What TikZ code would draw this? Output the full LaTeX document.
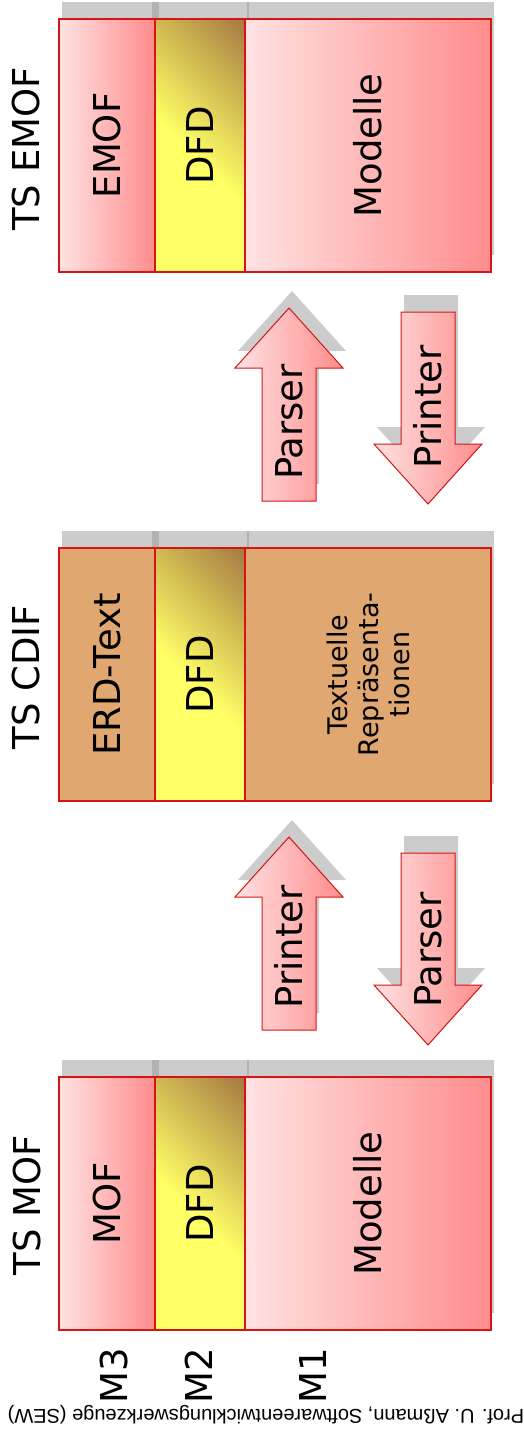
\documentclass[tikz,border=0pt]{standalone}
\usepackage{fontspec}
\setmainfont{DejaVu Sans}
\newfontfamily\footfont{Liberation Sans}
\definecolor{pinkL}{RGB}{255,226,226}
\definecolor{pinkR}{RGB}{255,140,140}
\definecolor{tanc}{RGB}{224,167,112}
\definecolor{dfdyel}{RGB}{255,255,102}
\definecolor{dfdbrn}{RGB}{165,120,65}
\definecolor{bred}{RGB}{215,20,20}
\definecolor{shgray}{RGB}{204,204,204}
\definecolor{shdark}{RGB}{178,178,178}
\tikzset{
  colbox/.style={draw=bred, line width=1.2pt, inner sep=0pt, outer sep=0pt, anchor=north west, minimum height=253pt},
  pinkfill/.style={left color=pinkL, right color=pinkR},
  tanfill/.style={fill=tanc},
  bigtext/.style={font=\fontsize{37}{44}\selectfont, rotate=90, inner sep=0pt},
  midtext/.style={font=\fontsize{27}{31}\selectfont, rotate=90, inner sep=0pt, align=center},
  arrowbody/.style={draw=bred, line width=1pt, left color=pinkL, right color=pinkR, line join=miter},
}
\begin{document}
\begin{tikzpicture}[x=1pt, y=-1pt]
\useasboundingbox (0,0) rectangle (524,1435);
% ---------- shadows of blocks and DFD gradients ----------
\foreach \y in {19,548,1077}{
  \fill[shgray] (62,\y-17) rectangle (494,\y+236);
  \fill[shdark] (152,\y-17) rectangle (159,\y+236);
  \fill[shdark] (246.5,\y-17) rectangle (249,\y+236);
  \begin{scope}
    \clip (155,\y) rectangle (245,\y+253);
    \fill[dfdyel] (155,\y) rectangle (245,\y+253);
    \foreach \i in {0,...,39}{
      \pgfmathsetmacro\ta{\i*4.7}
      \pgfmathsetmacro\tb{(\i+1)*4.7+0.7}
      \pgfmathtruncatemacro\p{(\i+0.5)*2.5}
      \fill[dfdbrn!\p!dfdyel] (150,\y+93-\ta) -- (250,\y+193-\ta) -- (250,\y+193-\tb) -- (150,\y+93-\tb) -- cycle;
    }
  \end{scope}
}
% ---------- block TS EMOF ----------
\node[colbox, pinkfill, minimum width=96pt] (emof) at (59,19) {};
\node[colbox, minimum width=90pt] (dfdA) at (155,19) {};
\node[colbox, pinkfill, minimum width=246pt] (modA) at (245,19) {};
\node[bigtext] (tA) at (107,145.5) {EMOF};
\node[bigtext] (dA) at (200,145.5) {DFD};
\node[bigtext] (mA) at (368,145.5) {Modelle};
\node[bigtext] (lA) at (26,149) {TS EMOF};
% ---------- block TS CDIF ----------
\node[colbox, tanfill, minimum width=96pt] (erd) at (59,548) {};
\node[colbox, minimum width=90pt] (dfdB) at (155,548) {};
\node[colbox, tanfill, minimum width=246pt] (txtB) at (245,548) {};
\node[bigtext] (tB) at (107,674.5) {ERD-Text};
\node[bigtext] (dB) at (200,674.5) {DFD};
\node[midtext] (mB) at (368,674.5) {Textuelle\\Repräsenta-\\tionen};
\node[bigtext] (lB) at (26,677) {TS CDIF};
% ---------- block TS MOF ----------
\node[colbox, pinkfill, minimum width=96pt] (mof) at (59,1077) {};
\node[colbox, minimum width=90pt] (dfdC) at (155,1077) {};
\node[colbox, pinkfill, minimum width=246pt] (modC) at (245,1077) {};
\node[bigtext] (tC) at (107,1203.5) {MOF};
\node[bigtext] (dC) at (200,1203.5) {DFD};
\node[bigtext] (mC) at (368,1203.5) {Modelle};
\node[bigtext] (lC) at (27,1205) {TS MOF};
% ---------- arrows ----------
\foreach \dy/\de in {0/0, 529/541}{
  % up arrow shadow
  \fill[shgray] (292,308+\dy-17) -- (346,368+\dy-17) -- (319,368+\dy-17) -- (319,501+\dy-17)
     -- (265,501+\dy-17) -- (265,368+\dy-17) -- (238,368+\dy-17) -- cycle;
  % down arrow shadow
  \fill[shgray] (404,312+\de-17) -- (458,312+\de-17) -- (458,444+\de-17) -- (485,444+\de-17)
     -- (431,504+\de-17) -- (377,444+\de-17) -- (404,444+\de-17) -- cycle;
  % up arrow
  \shade[arrowbody] (289,308+\dy) -- (343,368+\dy) -- (316,368+\dy) -- (316,501+\dy)
     -- (262,501+\dy) -- (262,368+\dy) -- (235,368+\dy) -- cycle;
  % down arrow
  \shade[arrowbody] (401,312+\de) -- (455,312+\de) -- (455,444+\de) -- (482,444+\de)
     -- (428,504+\de) -- (374,444+\de) -- (401,444+\de) -- cycle;
}
\node[bigtext] (pA) at (289,422) {Parser};
\node[bigtext] (qA) at (428,407) {Printer};
\node[bigtext] (pB) at (289,947) {Printer};
\node[bigtext] (qB) at (428,950) {Parser};
% ---------- level labels ----------
\node[bigtext] (m3) at (114,1376) {M3};
\node[bigtext] (m2) at (199,1376) {M2};
\node[bigtext] (m1) at (313,1376) {M1};
% ---------- footer ----------
\node[font=\footfont\fontsize{20}{24}\selectfont, rotate=180, inner sep=0pt] (foot) at (266,1415) {Prof. U. Aßmann, Softwareentwicklungswerkzeuge (SEW)};
\end{tikzpicture}
\end{document}
